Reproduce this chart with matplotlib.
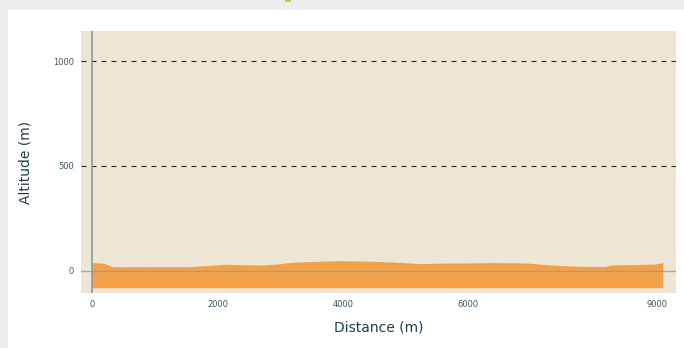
import matplotlib.pyplot as plt
from matplotlib.patches import Rectangle

# Elevation profile along the route
distance_m = [0, 200, 320, 600, 924, 1300, 1562, 1850, 2120, 2400, 2677, 2996,
              3155, 3500, 3952, 4350, 4749, 5000, 5227, 5705, 6000, 6390, 6700,
              6980, 7299, 7777, 8175, 8287, 8500, 8733, 8972, 9100]
altitude_m = [40, 37, 20, 20, 21, 20, 21, 26, 32, 30, 28, 34,
              41, 45, 49, 47, 43, 39, 35, 38, 38, 40, 39,
              37, 29, 22, 21, 29, 30, 31, 33, 40]
fill_floor = -80

x_ticks = [0, 2000, 4000, 6000, 9000]
y_ticks = [0, 500, 1000]
guide_levels = [500, 1000]

W, H = 684, 348
fig = plt.figure(figsize=(W / 100, H / 100), dpi=100, facecolor="#eeeeee")

# white card behind the chart
fig.patches.append(Rectangle((8 / W, 0), 1, (H - 10) / H, transform=fig.transFigure,
                             facecolor="white", edgecolor="none", zorder=-10))
fig.patches.append(Rectangle((285 / W, 1 - 2 / H), 6 / W, 2 / H, transform=fig.transFigure,
                             facecolor="#b6d335", edgecolor="none", zorder=-5))

ax = fig.add_axes([81 / W, 1 - 293 / H, (676 - 81) / W, (293 - 31) / H])
ax.set_facecolor("#ede6d5")

ax.fill_between(distance_m, fill_floor, altitude_m, color="#f39a3a", alpha=0.9,
                linewidth=0, zorder=2)

for lvl in guide_levels:
    ax.axhline(lvl, color="#2a2a2a", lw=0.8, linestyle=(0, (4.5, 4.5)), zorder=3)
ax.axhline(0, color="#8f9a9c", lw=1, alpha=0.8, zorder=4)
ax.axvline(0, color="#8f9a9c", lw=1.2, zorder=4)

ax.set_xlim(-175, 9310)
ax.set_ylim(-105, 1143)
ax.set_xticks(x_ticks)
ax.set_yticks(y_ticks)
ax.tick_params(length=0, labelsize=6, labelcolor="#3b5566")
ax.tick_params(axis="x", pad=5)
ax.tick_params(axis="y", pad=5)
for s in ax.spines.values():
    s.set_visible(False)

ax.set_xlabel("Distance (m)", fontsize=10, color="#1e3f4e", labelpad=8)
ax.set_ylabel("Altitude (m)", fontsize=10, color="#1e3f4e", labelpad=15)

fig.savefig("out.png", dpi=100, facecolor=fig.get_facecolor())
